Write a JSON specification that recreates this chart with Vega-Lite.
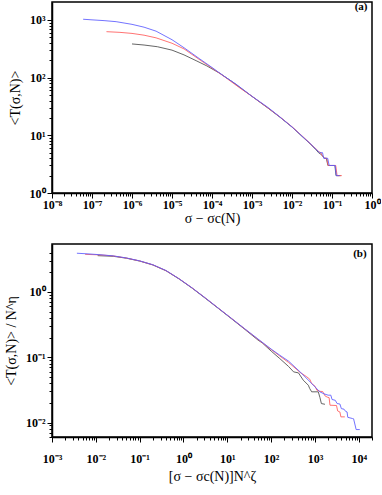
{
  "$schema": "https://vega.github.io/schema/vega-lite/v6.json",
  "padding": {"left": 3, "top": 0, "right": 0, "bottom": 4},
  "spacing": 17,
  "config": {
    "view": {"stroke": "#000", "strokeWidth": 1.5},
    "axis": {
      "domainColor": "#000", "tickColor": "#000", "labelColor": "#000", "titleColor": "#000",
      "grid": false, "labelFont": "Liberation Serif", "labelFontWeight": "bold", "labelFontSize": 12,
      "titleFont": "Liberation Serif", "titleFontWeight": "normal", "titleFontSize": 14,
      "labelFlush": false, "labelOverlap": false, "tickWidth": 1, "domainWidth": 1.5
    }
  },
  "datasets": {
    "top": [
      {"s": "N1", "x": 1.0e-6, "T": 384}, {"s": "N1", "x": 2.0e-6, "T": 368}, {"s": "N1", "x": 4.3e-6, "T": 344},
      {"s": "N1", "x": 1.0e-5, "T": 300}, {"s": "N1", "x": 2.0e-5, "T": 248}, {"s": "N1", "x": 4.0e-5, "T": 197},
      {"s": "N1", "x": 7.4e-5, "T": 160}, {"s": "N1", "x": 1.6e-4, "T": 118}, {"s": "N1", "x": 3.2e-4, "T": 85},
      {"s": "N1", "x": 1.0e-3, "T": 47.3}, {"s": "N1", "x": 2.5e-3, "T": 29.7}, {"s": "N1", "x": 5.0e-3, "T": 20.6},
      {"s": "N1", "x": 1.0e-2, "T": 13.9}, {"s": "N1", "x": 2.0e-2, "T": 8.9}, {"s": "N1", "x": 2.8e-2, "T": 7.2},
      {"s": "N1", "x": 4.0e-2, "T": 5.6}, {"s": "N1", "x": 4.6e-2, "T": 5.0}, {"s": "N1", "x": 5.5e-2, "T": 4.6},
      {"s": "N1", "x": 6.4e-2, "T": 4.0}, {"s": "N1", "x": 7.2e-2, "T": 4.0}, {"s": "N1", "x": 7.9e-2, "T": 3.0},
      {"s": "N1", "x": 0.118, "T": 3.0}, {"s": "N1", "x": 0.126, "T": 2.0}, {"s": "N1", "x": 0.165, "T": 2.0},
      {"s": "N2", "x": 2.3e-7, "T": 627}, {"s": "N2", "x": 5.0e-7, "T": 610}, {"s": "N2", "x": 1.0e-6, "T": 585},
      {"s": "N2", "x": 2.0e-6, "T": 545}, {"s": "N2", "x": 4.0e-6, "T": 490}, {"s": "N2", "x": 1.0e-5, "T": 395},
      {"s": "N2", "x": 2.0e-5, "T": 315}, {"s": "N2", "x": 5.0e-5, "T": 203}, {"s": "N2", "x": 1.0e-4, "T": 147},
      {"s": "N2", "x": 2.0e-4, "T": 105}, {"s": "N2", "x": 5.0e-4, "T": 66}, {"s": "N2", "x": 1.0e-3, "T": 47.5},
      {"s": "N2", "x": 2.5e-3, "T": 29.9}, {"s": "N2", "x": 5.0e-3, "T": 20.8}, {"s": "N2", "x": 1.0e-2, "T": 14.1},
      {"s": "N2", "x": 2.0e-2, "T": 9.1}, {"s": "N2", "x": 2.8e-2, "T": 7.3}, {"s": "N2", "x": 4.0e-2, "T": 5.8},
      {"s": "N2", "x": 4.7e-2, "T": 5.2}, {"s": "N2", "x": 5.3e-2, "T": 5.0}, {"s": "N2", "x": 5.7e-2, "T": 4.4},
      {"s": "N2", "x": 6.6e-2, "T": 4.0}, {"s": "N2", "x": 7.4e-2, "T": 4.0}, {"s": "N2", "x": 8.0e-2, "T": 3.0},
      {"s": "N2", "x": 0.124, "T": 3.0}, {"s": "N2", "x": 0.134, "T": 2.0}, {"s": "N2", "x": 0.176, "T": 2.0},
      {"s": "N3", "x": 6.0e-8, "T": 1030}, {"s": "N3", "x": 1.0e-7, "T": 1005}, {"s": "N3", "x": 2.0e-7, "T": 975},
      {"s": "N3", "x": 4.0e-7, "T": 935}, {"s": "N3", "x": 1.0e-6, "T": 840}, {"s": "N3", "x": 2.0e-6, "T": 750},
      {"s": "N3", "x": 4.0e-6, "T": 640}, {"s": "N3", "x": 1.0e-5, "T": 455}, {"s": "N3", "x": 2.0e-5, "T": 330},
      {"s": "N3", "x": 5.0e-5, "T": 210}, {"s": "N3", "x": 1.0e-4, "T": 150}, {"s": "N3", "x": 2.0e-4, "T": 106},
      {"s": "N3", "x": 4.0e-4, "T": 77}, {"s": "N3", "x": 1.0e-3, "T": 47.5}, {"s": "N3", "x": 2.5e-3, "T": 30.5},
      {"s": "N3", "x": 5.0e-3, "T": 20.8}, {"s": "N3", "x": 1.0e-2, "T": 14.0}, {"s": "N3", "x": 2.0e-2, "T": 9.0},
      {"s": "N3", "x": 2.8e-2, "T": 7.3}, {"s": "N3", "x": 4.0e-2, "T": 5.7}, {"s": "N3", "x": 4.9e-2, "T": 5.0},
      {"s": "N3", "x": 5.8e-2, "T": 5.0}, {"s": "N3", "x": 6.2e-2, "T": 4.0}, {"s": "N3", "x": 7.8e-2, "T": 4.0},
      {"s": "N3", "x": 8.5e-2, "T": 3.0}, {"s": "N3", "x": 0.120, "T": 3.0}, {"s": "N3", "x": 0.128, "T": 2.0},
      {"s": "N3", "x": 0.155, "T": 2.0}
    ],
    "bottom": [
      {"s": "N1", "u": 0.011, "v": 3.58}, {"s": "N1", "u": 0.025, "v": 3.50}, {"s": "N1", "u": 0.05, "v": 3.27},
      {"s": "N1", "u": 0.1, "v": 2.96}, {"s": "N1", "u": 0.2, "v": 2.58}, {"s": "N1", "u": 0.4, "v": 2.10},
      {"s": "N1", "u": 0.8, "v": 1.57}, {"s": "N1", "u": 1.6, "v": 1.13}, {"s": "N1", "u": 3.2, "v": 0.79},
      {"s": "N1", "u": 6.3, "v": 0.555}, {"s": "N1", "u": 12.6, "v": 0.385}, {"s": "N1", "u": 25, "v": 0.267},
      {"s": "N1", "u": 50, "v": 0.183}, {"s": "N1", "u": 63, "v": 0.165}, {"s": "N1", "u": 100, "v": 0.124},
      {"s": "N1", "u": 158, "v": 0.095}, {"s": "N1", "u": 250, "v": 0.072}, {"s": "N1", "u": 325, "v": 0.0596},
      {"s": "N1", "u": 420, "v": 0.0575}, {"s": "N1", "u": 540, "v": 0.0445}, {"s": "N1", "u": 705, "v": 0.0372},
      {"s": "N1", "u": 760, "v": 0.033}, {"s": "N1", "u": 840, "v": 0.0295}, {"s": "N1", "u": 1190, "v": 0.0295},
      {"s": "N1", "u": 1300, "v": 0.024}, {"s": "N1", "u": 1400, "v": 0.0195}, {"s": "N1", "u": 1690, "v": 0.0190},
      {"s": "N2", "u": 0.0057, "v": 3.75}, {"s": "N2", "u": 0.0125, "v": 3.68}, {"s": "N2", "u": 0.025, "v": 3.54},
      {"s": "N2", "u": 0.05, "v": 3.29}, {"s": "N2", "u": 0.1, "v": 2.97}, {"s": "N2", "u": 0.2, "v": 2.59},
      {"s": "N2", "u": 0.4, "v": 2.11}, {"s": "N2", "u": 0.8, "v": 1.58}, {"s": "N2", "u": 1.6, "v": 1.14},
      {"s": "N2", "u": 3.2, "v": 0.80}, {"s": "N2", "u": 6.3, "v": 0.56}, {"s": "N2", "u": 12.6, "v": 0.39},
      {"s": "N2", "u": 25, "v": 0.271}, {"s": "N2", "u": 50, "v": 0.188}, {"s": "N2", "u": 100, "v": 0.131},
      {"s": "N2", "u": 158, "v": 0.104}, {"s": "N2", "u": 250, "v": 0.083}, {"s": "N2", "u": 457, "v": 0.0585},
      {"s": "N2", "u": 650, "v": 0.050}, {"s": "N2", "u": 760, "v": 0.046}, {"s": "N2", "u": 840, "v": 0.0394},
      {"s": "N2", "u": 1000, "v": 0.036}, {"s": "N2", "u": 1100, "v": 0.0313}, {"s": "N2", "u": 1300, "v": 0.0300},
      {"s": "N2", "u": 1500, "v": 0.0298}, {"s": "N2", "u": 1700, "v": 0.0255}, {"s": "N2", "u": 1900, "v": 0.0245},
      {"s": "N2", "u": 2100, "v": 0.0240}, {"s": "N2", "u": 2200, "v": 0.0184}, {"s": "N2", "u": 3100, "v": 0.0182},
      {"s": "N2", "u": 3300, "v": 0.0150}, {"s": "N2", "u": 3700, "v": 0.0145}, {"s": "N2", "u": 3900, "v": 0.0122},
      {"s": "N2", "u": 4800, "v": 0.0122},
      {"s": "N3", "u": 0.0037, "v": 3.90}, {"s": "N3", "u": 0.0063, "v": 3.82}, {"s": "N3", "u": 0.0125, "v": 3.70},
      {"s": "N3", "u": 0.025, "v": 3.55}, {"s": "N3", "u": 0.05, "v": 3.30}, {"s": "N3", "u": 0.1, "v": 2.98},
      {"s": "N3", "u": 0.2, "v": 2.60}, {"s": "N3", "u": 0.4, "v": 2.12}, {"s": "N3", "u": 0.8, "v": 1.58},
      {"s": "N3", "u": 1.6, "v": 1.14}, {"s": "N3", "u": 3.2, "v": 0.80}, {"s": "N3", "u": 6.3, "v": 0.56},
      {"s": "N3", "u": 12.6, "v": 0.39}, {"s": "N3", "u": 25, "v": 0.272}, {"s": "N3", "u": 50, "v": 0.190},
      {"s": "N3", "u": 100, "v": 0.133}, {"s": "N3", "u": 158, "v": 0.107}, {"s": "N3", "u": 250, "v": 0.087},
      {"s": "N3", "u": 457, "v": 0.0596}, {"s": "N3", "u": 800, "v": 0.041}, {"s": "N3", "u": 1290, "v": 0.0295},
      {"s": "N3", "u": 1600, "v": 0.0275}, {"s": "N3", "u": 2000, "v": 0.0262}, {"s": "N3", "u": 2300, "v": 0.0262},
      {"s": "N3", "u": 2450, "v": 0.0225}, {"s": "N3", "u": 2900, "v": 0.0219}, {"s": "N3", "u": 3200, "v": 0.0195},
      {"s": "N3", "u": 3700, "v": 0.0192}, {"s": "N3", "u": 4000, "v": 0.0163}, {"s": "N3", "u": 4600, "v": 0.0160},
      {"s": "N3", "u": 5000, "v": 0.0148}, {"s": "N3", "u": 5400, "v": 0.0145}, {"s": "N3", "u": 5600, "v": 0.0120},
      {"s": "N3", "u": 7200, "v": 0.0115}, {"s": "N3", "u": 7600, "v": 0.0114}, {"s": "N3", "u": 8700, "v": 0.0078},
      {"s": "N3", "u": 10500, "v": 0.0078}
    ]
  },
  "vconcat": [
    {
      "width": 320,
      "height": 191,
      "encoding": {
        "x": {
          "field": "x", "type": "quantitative",
          "scale": {"type": "log", "domain": [1e-8, 1]},
          "axis": {
            "title": "σ − σc(N)",
            "titlePadding": 1,
            "labelPadding": 1,
            "values": [1e-8,2e-8,3e-8,4e-8,5e-8,6e-8,7e-8,8e-8,9e-8,1e-7,2e-7,3e-7,4e-7,5e-7,6e-7,7e-7,8e-7,9e-7,1e-6,2e-6,3e-6,4e-6,5e-6,6e-6,7e-6,8e-6,9e-6,1e-5,2e-5,3e-5,4e-5,5e-5,6e-5,7e-5,8e-5,9e-5,1e-4,2e-4,3e-4,4e-4,5e-4,6e-4,7e-4,8e-4,9e-4,1e-3,2e-3,3e-3,4e-3,5e-3,6e-3,7e-3,8e-3,9e-3,1e-2,2e-2,3e-2,4e-2,5e-2,6e-2,7e-2,8e-2,9e-2,0.1,0.2,0.3,0.4,0.5,0.6,0.7,0.8,0.9,1],
            "labelExpr": "abs(log(datum.value)/LN10 - round(log(datum.value)/LN10)) < 0.001 ? '10' + (round(log(datum.value)/LN10) < 0 ? '⁻' : '') + ['⁰','¹','²','³','⁴','⁵','⁶','⁷','⁸','⁹'][abs(round(log(datum.value)/LN10))] : ''",
            "tickSize": {"condition": {"test": "abs(log(datum.value)/LN10 - round(log(datum.value)/LN10)) < 0.001", "value": 5}, "value": 3}
          }
        },
        "y": {
          "field": "T", "type": "quantitative",
          "scale": {"type": "log", "domain": [1, 2050]},
          "axis": {
            "title": "<T(σ,N)>",
            "titlePadding": 7,
            "labelPadding": 2,
            "values": [1,2,3,4,5,6,7,8,9,10,20,30,40,50,60,70,80,90,100,200,300,400,500,600,700,800,900,1000],
            "labelExpr": "abs(log(datum.value)/LN10 - round(log(datum.value)/LN10)) < 0.001 ? '10' + (round(log(datum.value)/LN10) < 0 ? '⁻' : '') + ['⁰','¹','²','³','⁴','⁵','⁶','⁷','⁸','⁹'][abs(round(log(datum.value)/LN10))] : ''",
            "tickSize": {"condition": {"test": "abs(log(datum.value)/LN10 - round(log(datum.value)/LN10)) < 0.001", "value": 5}, "value": 3}
          }
        }
      },
      "layer": [
        {
          "data": {"name": "top"},
          "mark": {"type": "line", "strokeWidth": 1, "opacity": 0.85},
          "encoding": {
            "color": {"field": "s", "type": "nominal", "scale": {"domain": ["N1", "N2", "N3"], "range": ["#4a4a4a", "#ff5a5a", "#5a5aff"]}, "legend": null}
          }
        },
        {
          "data": {"values": [{"x": 0.77, "T": 1680, "label": "(a)"}]},
          "mark": {"type": "text", "align": "right", "baseline": "middle", "font": "Liberation Serif", "fontWeight": "bold", "fontSize": 11, "color": "#000"},
          "encoding": {"text": {"field": "label"}}
        }
      ]
    },
    {
      "width": 320,
      "height": 193,
      "encoding": {
        "x": {
          "field": "u", "type": "quantitative",
          "scale": {"type": "log", "domain": [1e-3, 2e4]},
          "axis": {
            "title": "[σ − σc(N)]N^ζ",
            "titlePadding": 5,
            "labelPadding": 11,
            "values": [1e-3,2e-3,3e-3,4e-3,5e-3,6e-3,7e-3,8e-3,9e-3,1e-2,2e-2,3e-2,4e-2,5e-2,6e-2,7e-2,8e-2,9e-2,0.1,0.2,0.3,0.4,0.5,0.6,0.7,0.8,0.9,1,2,3,4,5,6,7,8,9,10,20,30,40,50,60,70,80,90,100,200,300,400,500,600,700,800,900,1000,2000,3000,4000,5000,6000,7000,8000,9000,10000,20000],
            "labelExpr": "abs(log(datum.value)/LN10 - round(log(datum.value)/LN10)) < 0.001 ? '10' + (round(log(datum.value)/LN10) < 0 ? '⁻' : '') + ['⁰','¹','²','³','⁴','⁵','⁶','⁷','⁸','⁹'][abs(round(log(datum.value)/LN10))] : ''",
            "tickSize": {"condition": {"test": "abs(log(datum.value)/LN10 - round(log(datum.value)/LN10)) < 0.001", "value": 5}, "value": 3}
          }
        },
        "y": {
          "field": "v", "type": "quantitative",
          "scale": {"type": "log", "domain": [0.006, 5.4]},
          "axis": {
            "title": "<T(σ,N)> / N^η",
            "titlePadding": 7,
            "labelPadding": 2,
            "values": [0.006,0.007,0.008,0.009,0.01,0.02,0.03,0.04,0.05,0.06,0.07,0.08,0.09,0.1,0.2,0.3,0.4,0.5,0.6,0.7,0.8,0.9,1,2,3,4],
            "labelExpr": "abs(log(datum.value)/LN10 - round(log(datum.value)/LN10)) < 0.001 ? '10' + (round(log(datum.value)/LN10) < 0 ? '⁻' : '') + ['⁰','¹','²','³','⁴','⁵','⁶','⁷','⁸','⁹'][abs(round(log(datum.value)/LN10))] : ''",
            "tickSize": {"condition": {"test": "abs(log(datum.value)/LN10 - round(log(datum.value)/LN10)) < 0.001", "value": 5}, "value": 3}
          }
        }
      },
      "layer": [
        {
          "data": {"name": "bottom"},
          "mark": {"type": "line", "strokeWidth": 1, "opacity": 0.85},
          "encoding": {
            "color": {"field": "s", "type": "nominal", "scale": {"domain": ["N1", "N2", "N3"], "range": ["#4a4a4a", "#ff5a5a", "#5a5aff"]}, "legend": null}
          }
        },
        {
          "data": {"values": [{"u": 15100, "v": 3.86, "label": "(b)"}]},
          "mark": {"type": "text", "align": "right", "baseline": "middle", "font": "Liberation Serif", "fontWeight": "bold", "fontSize": 11, "color": "#000"},
          "encoding": {"text": {"field": "label"}}
        }
      ]
    }
  ]
}
